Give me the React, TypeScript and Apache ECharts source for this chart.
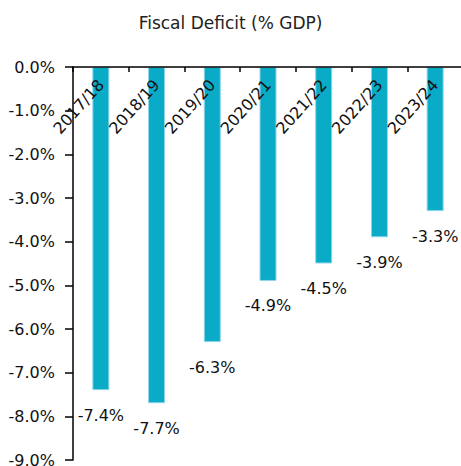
import React, { useEffect, useRef } from "react";
import * as echarts from "echarts";

const categories = ["2017/18", "2018/19", "2019/20", "2020/21", "2021/22", "2022/23", "2023/24"];
const deficitValues = [-7.4, -7.7, -6.3, -4.9, -4.5, -3.9, -3.3];
const titleText = "Fiscal Deficit (% GDP)";

const FONT = "'DejaVu Sans', sans-serif";

export default function App() {
  const ref = useRef<HTMLDivElement>(null);
  useEffect(() => {
    if (!ref.current) return;
    const chart = echarts.init(ref.current, null, { renderer: "svg" });
    chart.setOption({
      animation: false,
      title: {
        text: titleText,
        left: "center",
        top: 9,
        textStyle: { fontFamily: FONT, fontSize: 17, fontWeight: "normal", color: "#222" },
      },
      grid: { left: 73, top: 67, width: 390, bottom: 6, containLabel: false, outerBoundsMode: "none" },
      xAxis: {
        type: "category",
        position: "top",
        data: categories,
        axisLine: { onZero: false, lineStyle: { color: "#000", width: 1.5 } },
        axisTick: { show: true, inside: true, length: 5, lineStyle: { color: "#000", width: 1.5 } },
        axisLabel: {
          inside: true,
          rotate: -48,
          align: "right",
          verticalAlign: "middle",
          margin: 15,
          fontFamily: FONT,
          fontSize: 16,
          color: "#111",
        },
        z: 10,
      },
      yAxis: {
        type: "value",
        min: -9,
        max: 0,
        interval: 1,
        splitLine: { show: false },
        axisLine: { show: true, lineStyle: { color: "#000", width: 1.5 } },
        axisTick: { show: true, length: 8, lineStyle: { color: "#000", width: 1.5 } },
        axisLabel: {
          margin: 18,
          fontFamily: FONT,
          fontSize: 16,
          color: "#111",
          formatter: (v: number) => v.toFixed(1) + "%",
        },
      },
      series: [
        {
          type: "bar",
          data: deficitValues,
          barWidth: 17,
          itemStyle: { color: "#0aabc7", borderColor: "#8fd6e8", borderWidth: 1 },
          label: {
            show: true,
            position: "bottom",
            distance: 17,
            fontFamily: FONT,
            fontSize: 16,
            color: "#111",
            formatter: (p: any) => p.value.toFixed(1) + "%",
          },
        },
      ],
    });
    return () => chart.dispose();
  }, []);
  return <div ref={ref} style={{ width: 461, height: 466, position: "absolute", left: 0, top: 0 }} />;
}
